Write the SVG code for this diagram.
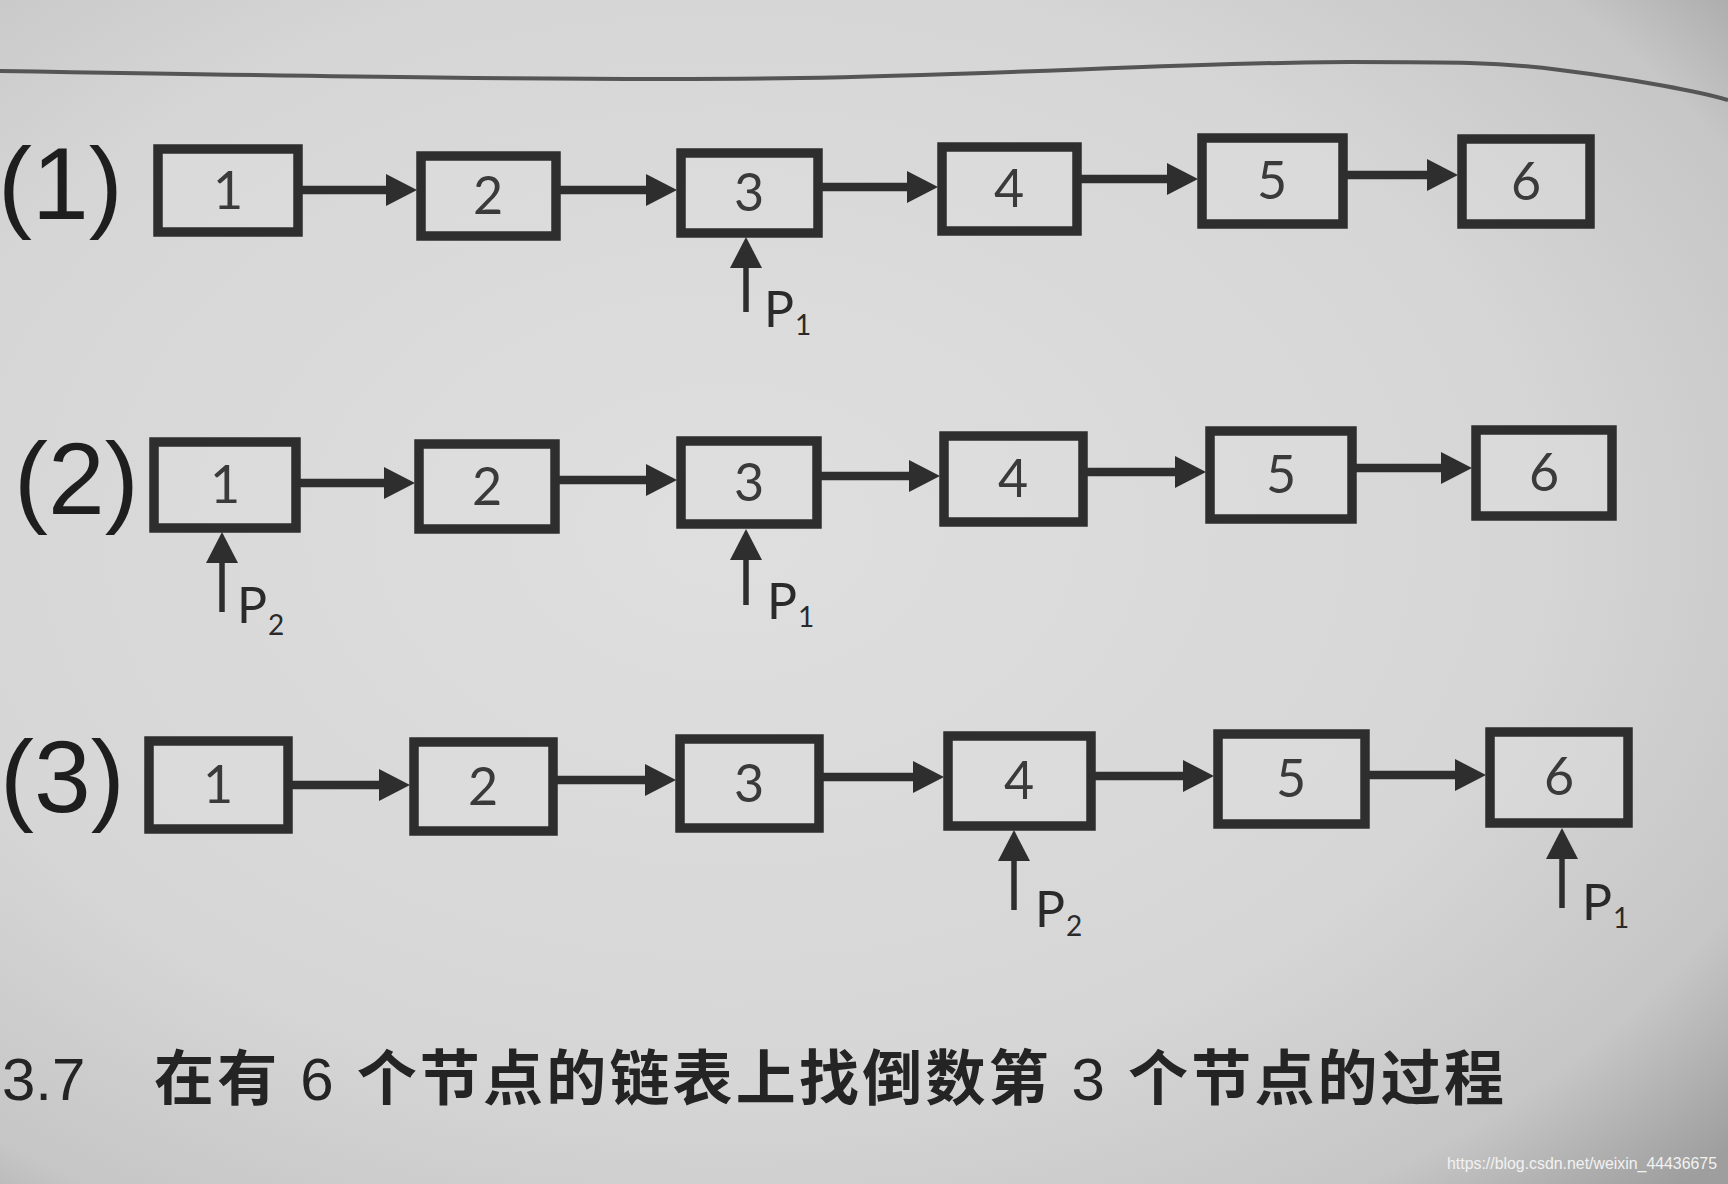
<svg xmlns="http://www.w3.org/2000/svg" width="1728" height="1184" viewBox="0 0 1728 1184">
<defs>
<radialGradient id="bg" cx="0.42" cy="0.45" r="0.78">
<stop offset="0" stop-color="#dfdfdf"/>
<stop offset="0.6" stop-color="#d6d6d6"/>
<stop offset="0.85" stop-color="#c6c6c6"/>
<stop offset="1" stop-color="#9e9e9e"/>
</radialGradient>
<marker id="ah" markerUnits="userSpaceOnUse" markerWidth="32" markerHeight="34" refX="10" refY="17" orient="auto" viewBox="0 0 32 34">
<path d="M0,1 L31,17 L0,33 Z" fill="#2e2e2e"/>
</marker>
<style>
.box{fill:#dedede;fill-opacity:0.5;stroke:#2e2e2e;stroke-width:9.5}
.num{font-family:Lato,"Open Sans",sans-serif;font-size:52px;fill:#3a3a3a;text-anchor:middle}
.lbl{font-family:"Liberation Sans",Arial,sans-serif;font-size:102px;fill:#1e1e1e}
.link{stroke:#2e2e2e;stroke-width:8.5;fill:none;marker-end:url(#ah)}
.ptr{stroke:#2e2e2e;stroke-width:5.5;fill:none;marker-end:url(#ah)}
.p{font-family:Lato,"Open Sans",sans-serif;font-size:50px;fill:#2a2a2a}
.sub{font-size:28px}
.cap{font-family:"Liberation Sans","Noto Sans CJK SC",sans-serif;font-size:60px;fill:#242424;font-weight:600}
.reg{font-weight:400}
</style>
</defs>
<rect width="1728" height="1184" fill="url(#bg)"/>
<path d="M0,71 C300,76 600,81 800,78 C1000,75 1200,62 1350,62 C1450,62 1500,62 1560,70 C1640,80 1700,92 1728,100" fill="none" stroke="#555" stroke-width="4"/>

<g id="row-labels">
<text class="lbl" x="-2" y="219">(1)</text>
<text class="lbl" x="14" y="514">(2)</text>
<text class="lbl" x="0" y="812">(3)</text>
</g>

<g id="row1">
<g id="r1n1"><rect class="box" x="158" y="149" width="140" height="83"/><text class="num" x="228" y="209">1</text></g>
<g id="r1n2"><rect class="box" x="421" y="156" width="135" height="80"/><text class="num" x="488" y="214">2</text></g>
<g id="r1n3"><rect class="box" x="681" y="153" width="137" height="80"/><text class="num" x="749" y="211">3</text></g>
<g id="r1n4"><rect class="box" x="942" y="147" width="135" height="84"/><text class="num" x="1009" y="207">4</text></g>
<g id="r1n5"><rect class="box" x="1202" y="138" width="141" height="86"/><text class="num" x="1272" y="199">5</text></g>
<g id="r1n6"><rect class="box" x="1462" y="139" width="128" height="85"/><text class="num" x="1526" y="200">6</text></g>
</g>

<g id="row2">
<g id="r2n1"><rect class="box" x="154" y="442" width="142" height="86"/><text class="num" x="225" y="503">1</text></g>
<g id="r2n2"><rect class="box" x="419" y="444" width="136" height="85"/><text class="num" x="487" y="505">2</text></g>
<g id="r2n3"><rect class="box" x="681" y="441" width="136" height="83"/><text class="num" x="749" y="501">3</text></g>
<g id="r2n4"><rect class="box" x="944" y="436" width="139" height="86"/><text class="num" x="1013" y="497">4</text></g>
<g id="r2n5"><rect class="box" x="1210" y="431" width="142" height="88"/><text class="num" x="1281" y="493">5</text></g>
<g id="r2n6"><rect class="box" x="1476" y="430" width="136" height="86"/><text class="num" x="1544" y="491">6</text></g>
</g>

<g id="row3">
<g id="r3n1"><rect class="box" x="149" y="741" width="139" height="88"/><text class="num" x="218" y="803">1</text></g>
<g id="r3n2"><rect class="box" x="414" y="742" width="139" height="89"/><text class="num" x="483" y="805">2</text></g>
<g id="r3n3"><rect class="box" x="680" y="739" width="139" height="89"/><text class="num" x="749" y="802">3</text></g>
<g id="r3n4"><rect class="box" x="948" y="736" width="143" height="90"/><text class="num" x="1019" y="799">4</text></g>
<g id="r3n5"><rect class="box" x="1218" y="734" width="147" height="90"/><text class="num" x="1291" y="797">5</text></g>
<g id="r3n6"><rect class="box" x="1490" y="732" width="138" height="91"/><text class="num" x="1559" y="795">6</text></g>
</g>

<g id="connectors">
<line class="link" x1="302" y1="190" x2="396" y2="190"/>
<line class="link" x1="560" y1="190" x2="656" y2="190"/>
<line class="link" x1="822" y1="187" x2="917" y2="187"/>
<line class="link" x1="1081" y1="179" x2="1177" y2="179"/>
<line class="link" x1="1347" y1="175" x2="1437" y2="175"/>
<line class="ptr" x1="746" y1="312" x2="746" y2="258"/>

<line class="link" x1="300" y1="483" x2="394" y2="483"/>
<line class="link" x1="559" y1="480" x2="656" y2="480"/>
<line class="link" x1="821" y1="476" x2="919" y2="476"/>
<line class="link" x1="1087" y1="472" x2="1185" y2="472"/>
<line class="link" x1="1356" y1="468" x2="1451" y2="468"/>
<line class="ptr" x1="222" y1="612" x2="222" y2="553"/>
<line class="ptr" x1="746" y1="605" x2="746" y2="550"/>

<line class="link" x1="292" y1="785" x2="389" y2="785"/>
<line class="link" x1="557" y1="780" x2="655" y2="780"/>
<line class="link" x1="823" y1="777" x2="923" y2="777"/>
<line class="link" x1="1095" y1="776" x2="1193" y2="776"/>
<line class="link" x1="1369" y1="775" x2="1465" y2="775"/>
<line class="ptr" x1="1014" y1="910" x2="1014" y2="851"/>
<line class="ptr" x1="1562" y1="908" x2="1562" y2="849"/>
</g>

<g id="pointer-labels">
<text class="p" x="764" y="327">P<tspan class="sub" dx="1" dy="8">1</tspan></text>
<text class="p" x="237" y="623">P<tspan class="sub" dx="1" dy="12">2</tspan></text>
<text class="p" x="767" y="619">P<tspan class="sub" dx="1" dy="8">1</tspan></text>
<text class="p" x="1035" y="927">P<tspan class="sub" dx="1" dy="9">2</tspan></text>
<text class="p" x="1582" y="920">P<tspan class="sub" dx="1" dy="8">1</tspan></text>
</g>

<g id="caption">
<text class="cap reg" x="2" y="1100">3.7</text>
<text class="cap" x="154" y="1100" textLength="1350" lengthAdjust="spacing">在有 <tspan class="reg">6</tspan> 个节点的链表上找倒数第 <tspan class="reg">3</tspan> 个节点的过程</text>
</g>
<text x="1447" y="1169" font-family="'Liberation Sans',Arial,sans-serif" font-size="16" fill="#f2f2f2" textLength="270" lengthAdjust="spacingAndGlyphs">https://blog.csdn.net/weixin_44436675</text>
</svg>
